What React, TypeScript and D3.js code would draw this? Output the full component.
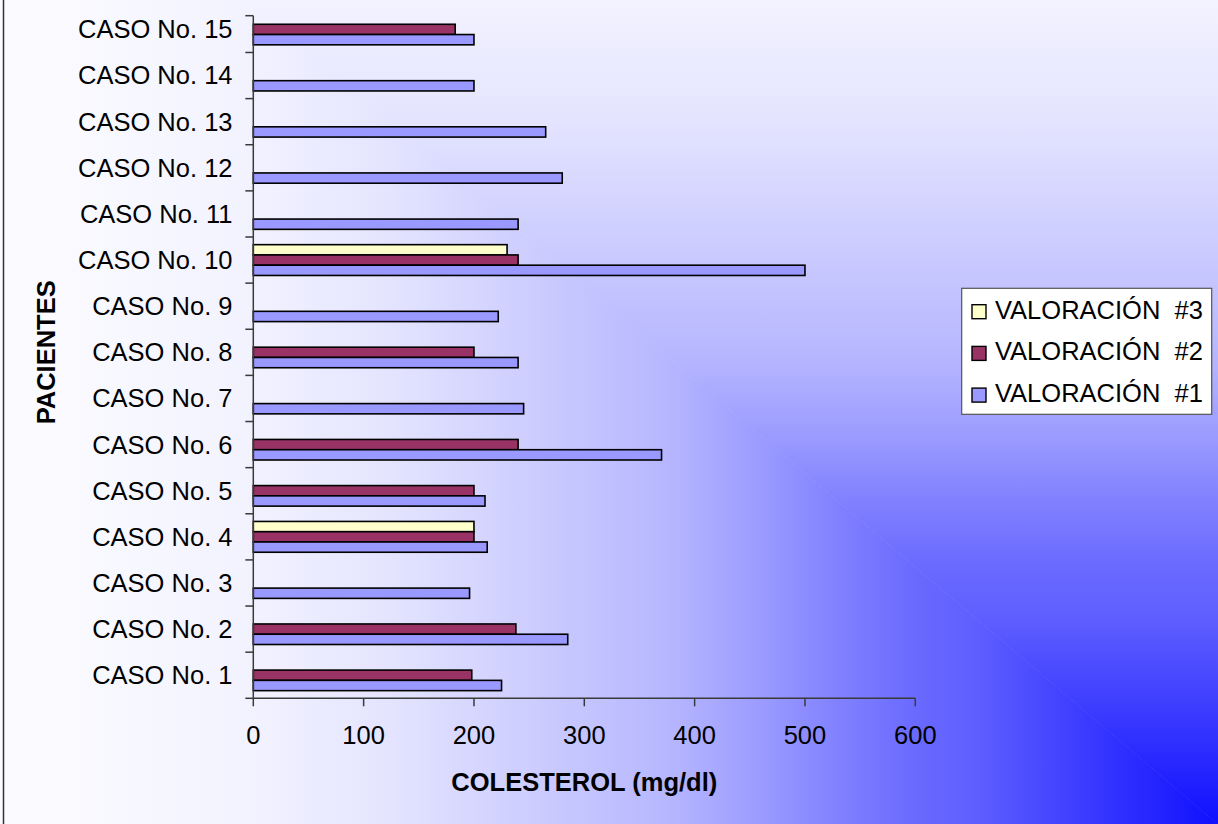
import React, { useEffect } from "react";
import * as d3 from "d3";

// Patients and cholesterol readings (mg/dl); null = no reading for that visit
const cases = [
  "CASO No. 1", "CASO No. 2", "CASO No. 3", "CASO No. 4", "CASO No. 5",
  "CASO No. 6", "CASO No. 7", "CASO No. 8", "CASO No. 9", "CASO No. 10",
  "CASO No. 11", "CASO No. 12", "CASO No. 13", "CASO No. 14", "CASO No. 15",
];
const valoracion1 = [225, 285, 196, 212, 210, 370, 245, 240, 222, 500, 240, 280, 265, 200, 200];
const valoracion2 = [198, 238, null, 200, 200, 240, null, 200, null, 240, null, null, null, null, 183];
const valoracion3 = [null, null, null, 200, null, null, null, null, null, 230, null, null, null, null, null];

const seriesNames = ["VALORACIÓN  #3", "VALORACIÓN  #2", "VALORACIÓN  #1"];
const seriesColors = ["#ffffcc", "#993366", "#9999ff"];
const xTicks = [0, 100, 200, 300, 400, 500, 600];

const W = 1218;
const H = 824;
const FONT = "'Liberation Sans', Arial, sans-serif";

export default function App() {
  useEffect(() => {
    document.body.style.margin = "0";
  }, []);

  const x0 = 253.3;
  const x1 = 915.3;
  const yBottom = 698.3;
  const step = 46.13;
  const yTop = yBottom - step * cases.length;
  const axisTop = 15.7;

  const x = d3.scaleLinear().domain([0, 600]).range([x0, x1]);
  const y = d3.scaleBand<string>().domain([...cases].reverse()).range([yTop, yBottom]).padding(0);
  const inner = d3
    .scaleBand<string>()
    .domain(seriesNames)
    .range([0, y.bandwidth()])
    .paddingInner(0)
    .paddingOuter(0.746);

  const seriesData = [valoracion3, valoracion2, valoracion1];

  // Corner fill: colour depends on the larger normalised distance from the bottom-right corner
  const stops: [number, number][] = [
    [0, 16], [0.2, 95], [0.25, 106], [0.31, 128], [0.37, 153], [0.45, 182],
    [0.55, 202], [0.68, 228], [0.8, 243], [1, 252],
  ];
  const spanY = 1035;
  const ridgeX = W - (H * W) / spanY;
  const stopEls = stops.map(([t, v], i) => (
    <stop key={i} offset={t} stopColor={d3.rgb(v, v, 255).formatHex()} />
  ));

  const tickYs = cases.map((c) => (y(c) as number) + y.bandwidth());

  return (
    <svg
      width={W}
      height={H}
      style={{ position: "absolute", left: 0, top: 0, display: "block" }}
      fontFamily={FONT}
    >
      <defs>
        <linearGradient id="bgX" gradientUnits="userSpaceOnUse" x1={W} y1={0} x2={0} y2={0}>
          {stopEls}
        </linearGradient>
        <linearGradient id="bgY" gradientUnits="userSpaceOnUse" x1={0} y1={H} x2={0} y2={H - spanY}>
          {stopEls}
        </linearGradient>
      </defs>
      <polygon points={`0,0 ${ridgeX},0 ${W},${H} 0,${H}`} fill="url(#bgX)" />
      <polygon points={`${ridgeX - 0.5},0 ${W},0 ${W},${H + 0.5}`} fill="url(#bgY)" />
      <line x1={3.5} x2={3.5} y1={0} y2={H} stroke="#333" strokeWidth={1.5} />

      {/* bars */}
      {seriesData.map((vals, si) =>
        vals.map((v, ci) =>
          v == null ? null : (
            <rect
              key={`${si}-${ci}`}
              x={x(0)}
              y={(y(cases[ci]) as number) + (inner(seriesNames[si]) as number)}
              width={x(v) - x(0)}
              height={inner.bandwidth()}
              fill={seriesColors[si]}
              stroke="#000"
              strokeWidth={1.6}
            />
          )
        )
      )}

      {/* value axis */}
      <line x1={x0} x2={x1} y1={yBottom} y2={yBottom} stroke="#3a3a3a" strokeWidth={1.5} />
      {xTicks.map((t) => (
        <g key={t}>
          <line x1={x(t)} x2={x(t)} y1={yBottom} y2={yBottom + 8} stroke="#3a3a3a" strokeWidth={1.5} />
          <text x={x(t)} y={744} textAnchor="middle" fontSize={25.5} fill="#000">
            {t}
          </text>
        </g>
      ))}

      {/* category axis */}
      <line x1={x0} x2={x0} y1={axisTop} y2={yBottom} stroke="#3a3a3a" strokeWidth={1.5} />
      {[axisTop, ...tickYs].map((ty, i) => (
        <line key={i} x1={x0 - 8} x2={x0} y1={ty} y2={ty} stroke="#3a3a3a" strokeWidth={1.5} />
      ))}
      {cases.map((c) => (
        <text
          key={c}
          x={232.5}
          y={(y(c) as number) + y.bandwidth() / 2}
          dy="0.35em"
          textAnchor="end"
          fontSize={25.5}
          fill="#000"
        >
          {c}
        </text>
      ))}

      {/* axis titles */}
      <text x={(x0 + x1) / 2} y={791} textAnchor="middle" fontSize={25.5} fontWeight="bold" fill="#000">
        COLESTEROL (mg/dl)
      </text>
      <text
        transform={`translate(55,${(yTop + yBottom) / 2}) rotate(-90)`}
        textAnchor="middle"
        fontSize={25.5}
        fontWeight="bold"
        fill="#000"
      >
        PACIENTES
      </text>

      {/* legend */}
      <rect x={961.7} y={288.3} width={250} height={126} fill="#fff" stroke="#555" strokeWidth={1.2} />
      {seriesNames.map((name, i) => {
        const cy = 311.7 + i * 41.7;
        return (
          <g key={name}>
            <rect x={972} y={cy - 7} width={14} height={14} fill={seriesColors[i]} stroke="#000" strokeWidth={1.4} />
            <text x={995} y={cy + 7} fontSize={25.5} fill="#000" style={{ whiteSpace: "pre" }}>
              {name}
            </text>
          </g>
        );
      })}
    </svg>
  );
}
